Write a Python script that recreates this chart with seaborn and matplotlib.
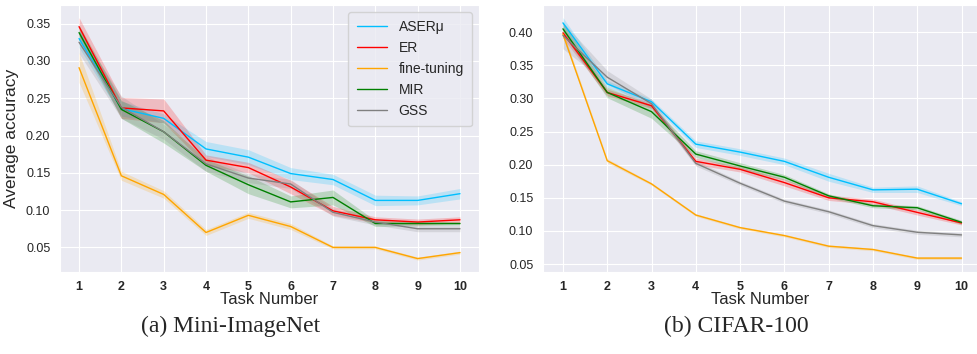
import numpy as np
import pandas as pd
import matplotlib
matplotlib.use("Agg")
import matplotlib.pyplot as plt
import seaborn as sns

TASKS = list(range(1, 11))
METHODS = ["ASERμ", "ER", "fine-tuning", "MIR", "GSS"]
COLORS = {"ASERμ": "deepskyblue", "ER": "red", "fine-tuning": "orange",
          "MIR": "green", "GSS": "gray"}

# Mini-ImageNet: mean accuracy and band half-width per task
mini_aser = [0.330, 0.236, 0.223, 0.182, 0.171, 0.149, 0.141, 0.113, 0.113, 0.122]
mini_er = [0.346, 0.237, 0.233, 0.167, 0.157, 0.131, 0.099, 0.087, 0.084, 0.087]
mini_ft = [0.291, 0.146, 0.121, 0.070, 0.093, 0.078, 0.050, 0.050, 0.035, 0.043]
mini_mir = [0.338, 0.235, 0.205, 0.160, 0.134, 0.111, 0.117, 0.082, 0.082, 0.082]
mini_gss = [0.325, 0.238, 0.205, 0.162, 0.143, 0.135, 0.097, 0.084, 0.075, 0.075]

mini_aser_ci = [0.012, 0.010, 0.006, 0.010, 0.010, 0.008, 0.007, 0.007, 0.006, 0.007]
mini_er_ci = [0.012, 0.014, 0.016, 0.007, 0.007, 0.009, 0.006, 0.004, 0.004, 0.004]
mini_ft_ci = [0.020, 0.006, 0.005, 0.004, 0.004, 0.004, 0.002, 0.002, 0.002, 0.002]
mini_mir_ci = [0.010, 0.012, 0.015, 0.008, 0.012, 0.008, 0.010, 0.004, 0.003, 0.002]
mini_gss_ci = [0.015, 0.015, 0.010, 0.010, 0.006, 0.006, 0.005, 0.004, 0.004, 0.004]

# CIFAR-100
cifar_aser = [0.414, 0.322, 0.295, 0.231, 0.219, 0.205, 0.181, 0.162, 0.163, 0.141]
cifar_er = [0.399, 0.309, 0.289, 0.205, 0.193, 0.173, 0.150, 0.144, 0.128, 0.112]
cifar_ft = [0.397, 0.206, 0.171, 0.124, 0.105, 0.093, 0.077, 0.072, 0.059, 0.059]
cifar_mir = [0.405, 0.309, 0.280, 0.216, 0.198, 0.181, 0.153, 0.138, 0.135, 0.113]
cifar_gss = [0.395, 0.332, 0.292, 0.202, 0.172, 0.145, 0.129, 0.108, 0.098, 0.094]

cifar_aser_ci = [0.008, 0.005, 0.004, 0.005, 0.005, 0.005, 0.006, 0.004, 0.005, 0.003]
cifar_er_ci = [0.008, 0.005, 0.004, 0.005, 0.004, 0.005, 0.004, 0.004, 0.004, 0.003]
cifar_ft_ci = [0.005, 0.003, 0.002, 0.002, 0.002, 0.002, 0.002, 0.002, 0.002, 0.002]
cifar_mir_ci = [0.008, 0.008, 0.010, 0.005, 0.005, 0.004, 0.003, 0.003, 0.003, 0.003]
cifar_gss_ci = [0.020, 0.010, 0.007, 0.004, 0.003, 0.003, 0.003, 0.003, 0.003, 0.003]

PANELS = [
    {"means": [mini_aser, mini_er, mini_ft, mini_mir, mini_gss],
     "cis": [mini_aser_ci, mini_er_ci, mini_ft_ci, mini_mir_ci, mini_gss_ci],
     "caption": "(a) Mini-ImageNet", "ylim": (0.017, 0.375), "xlim": (0.55, 10.45),
     "yticks": [0.05, 0.10, 0.15, 0.20, 0.25, 0.30, 0.35]},
    {"means": [cifar_aser, cifar_er, cifar_ft, cifar_mir, cifar_gss],
     "cis": [cifar_aser_ci, cifar_er_ci, cifar_ft_ci, cifar_mir_ci, cifar_gss_ci],
     "caption": "(b) CIFAR-100", "ylim": (0.038, 0.441), "xlim": (0.55, 10.35),
     "yticks": [0.05, 0.10, 0.15, 0.20, 0.25, 0.30, 0.35, 0.40]},
]


def long_frame(means):
    rows = []
    for name, vals in zip(METHODS, means):
        for t, v in zip(TASKS, vals):
            rows.append({"task": t, "method": name, "acc": v})
    return pd.DataFrame(rows)


sns.set_style("darkgrid")
plt.rcParams["font.family"] = ["Liberation Sans", "DejaVu Sans"]

fig = plt.figure(figsize=(9.77, 3.54), dpi=100)
axes = [fig.add_axes([0.0614, 0.2316, 0.4289, 0.7543]),
        fig.add_axes([0.5558, 0.2316, 0.4442, 0.7543])]

for i, (ax, panel) in enumerate(zip(axes, PANELS)):
    df = long_frame(panel["means"])
    sns.lineplot(data=df, x="task", y="acc", hue="method", palette=COLORS,
                 hue_order=METHODS, linewidth=1, ax=ax, legend=(i == 0))
    for name, vals, ci in zip(METHODS, panel["means"], panel["cis"]):
        lo = np.array(vals) - np.array(ci)
        hi = np.array(vals) + np.array(ci)
        ax.fill_between(TASKS, lo, hi, color=COLORS[name], alpha=0.2, linewidth=0)

    ax.set_xlim(*panel["xlim"])
    ax.set_ylim(*panel["ylim"])
    ax.set_xticks(TASKS)
    ax.set_xticklabels([str(t) for t in TASKS], fontweight="bold", fontsize=9)
    ax.set_yticks(panel["yticks"])
    ax.set_yticklabels([f"{v:.2f}" for v in panel["yticks"]], fontsize=9)
    ax.tick_params(axis="x", pad=3)
    ax.set_xlabel("Task Number", fontsize=12, labelpad=-1)
    ax.set_ylabel("Average accuracy" if i == 0 else "", fontsize=12.5, labelpad=5)
    fig.text(ax.get_position().x0 + ax.get_position().width / 2 - (0.04 if i == 0 else 0.024),
             0.077, panel["caption"], ha="center", va="center",
             fontsize=17, family="Liberation Serif")

leg = axes[0].legend(loc="upper right", fontsize=10, handlelength=2.2,
                     borderpad=0.6, labelspacing=0.5)
leg.set_title(None)

fig.savefig("out.png", dpi=100)
